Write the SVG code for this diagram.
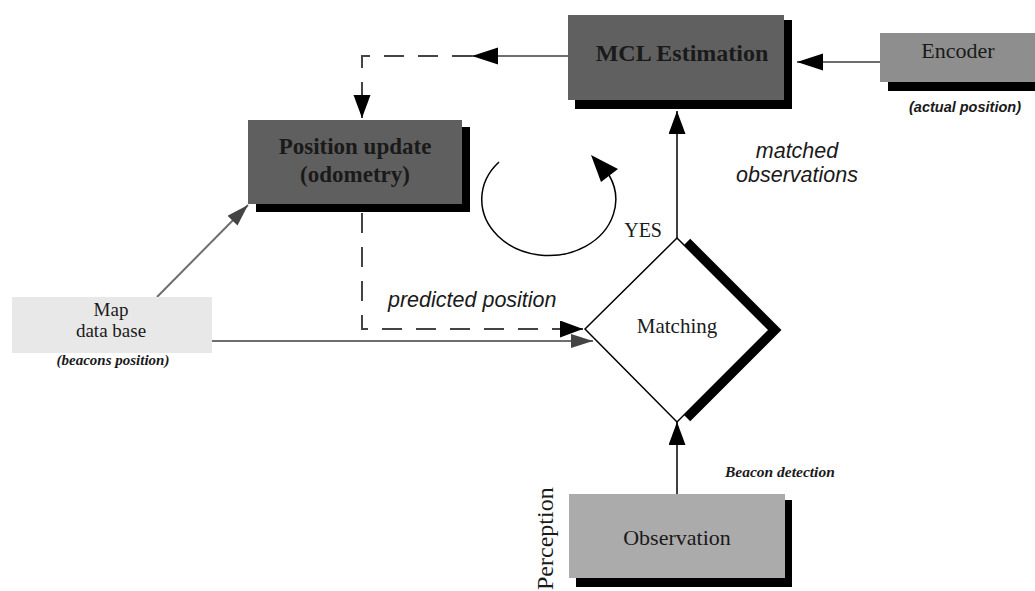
<svg xmlns="http://www.w3.org/2000/svg" width="1035" height="591" viewBox="0 0 1035 591">
<style>
.serif{font-family:"Liberation Serif","Times New Roman",serif;fill:#1a1a1a}
.sans{font-family:"Liberation Sans",Arial,sans-serif;fill:#1a1a1a}
.shadow{fill:#000}
.ln{fill:none;stroke:#000;stroke-width:1.5}
.gln{fill:none;stroke:#6e6e6e;stroke-width:2}
.dash{fill:none;stroke:#444;stroke-width:2;stroke-dasharray:20 14}
</style>
<defs>
<marker id="ah" markerUnits="userSpaceOnUse" markerWidth="28" markerHeight="18" refX="26" refY="8.5" orient="auto">
<path d="M0,0 L26,8.5 L0,17 z" fill="#000"/>
</marker>
<marker id="ahs" markerUnits="userSpaceOnUse" markerWidth="26" markerHeight="18" refX="23" refY="8.5" orient="auto">
<path d="M0,0 L23,8.5 L0,17 z" fill="#000"/>
</marker>
<marker id="ahg" markerUnits="userSpaceOnUse" markerWidth="26" markerHeight="18" refX="22" refY="7" orient="auto">
<path d="M0,0 L22,7 L0,14 z" fill="#444"/>
</marker>
</defs>
<rect width="1035" height="591" fill="#fff"/>

<g id="connectors">
<line class="gln" x1="880" y1="62" x2="797" y2="62" marker-end="url(#ah)"/>
<line class="gln" x1="568" y1="56" x2="472" y2="56" marker-end="url(#ah)"/>
<polyline class="dash" points="472,56 362,56 362,96"/>
<line x1="362" y1="92" x2="362" y2="118" stroke="#444" stroke-width="2" marker-end="url(#ahs)"/>
<line class="gln" x1="157" y1="297" x2="248" y2="205" marker-end="url(#ahg)"/>
<polyline class="dash" points="362,213 362,329 570,329"/>
<line x1="565" y1="329" x2="583" y2="329" stroke="#444" stroke-width="2" marker-end="url(#ahs)"/>
<line class="gln" x1="212" y1="341" x2="593" y2="341" marker-end="url(#ahg)"/>
<line class="ln" x1="677" y1="238" x2="677" y2="111" marker-end="url(#ahs)"/>
<line class="ln" x1="677" y1="494" x2="677" y2="422" marker-end="url(#ahs)"/>
<path class="ln" d="M499,162 A67,56 0 1 0 609,175"/>
<polygon points="591,155 601,182 618,169" fill="#000"/>
</g>

<g id="mcl">
<rect class="shadow" x="575" y="20" width="217" height="89"/>
<rect x="568" y="15" width="216" height="85" fill="#606060"/>
<text class="serif" x="682" y="61" font-size="24" font-weight="bold" text-anchor="middle">MCL Estimation</text>
</g>

<g id="encoder">
<rect class="shadow" x="888" y="40" width="150" height="51"/>
<rect x="880" y="33" width="160" height="49" fill="#8e8e8e"/>
<text class="serif" x="958" y="58" font-size="22" text-anchor="middle">Encoder</text>
<text class="sans" x="965" y="112" font-size="14.5" font-weight="bold" font-style="italic" text-anchor="middle">(actual position)</text>
</g>

<g id="position-update">
<rect class="shadow" x="256" y="127" width="214" height="85"/>
<rect x="248" y="120" width="214" height="84" fill="#5f5f5f"/>
<text class="serif" x="355" y="154" font-size="23" font-weight="bold" text-anchor="middle">Position update</text>
<text class="serif" x="355" y="182" font-size="23" font-weight="bold" text-anchor="middle">(odometry)</text>
</g>

<g id="map">
<rect x="12" y="297" width="200" height="56" fill="#e8e8e8"/>
<text class="serif" x="111" y="316" font-size="19" text-anchor="middle">Map</text>
<text class="serif" x="111" y="337" font-size="19" text-anchor="middle">data base</text>
<text class="serif" x="113" y="365" font-size="15" font-weight="bold" font-style="italic" text-anchor="middle">(beacons position)</text>
</g>

<g id="matching">
<polyline points="686,243 773,330 686,417" fill="none" stroke="#000" stroke-width="12"/>
<polygon points="585,329 677,238 769,330 677,422" fill="#fff" stroke="#000" stroke-width="1.5"/>
<text class="serif" x="677" y="333" font-size="21" text-anchor="middle">Matching</text>
<text class="serif" x="662" y="237" font-size="20" text-anchor="end">YES</text>
</g>

<g id="observation">
<rect class="shadow" x="576" y="500" width="216" height="87"/>
<rect x="569" y="494" width="216" height="84" fill="#ababab"/>
<text class="serif" x="677" y="545" font-size="22" text-anchor="middle">Observation</text>
<text class="serif" x="725" y="477" font-size="15.5" font-weight="bold" font-style="italic">Beacon detection</text>
<text class="serif" transform="translate(553,590) rotate(-90)" font-size="24">Perception</text>
</g>

<g id="labels">
<text class="sans" x="388" y="307" font-size="21.5" font-style="italic">predicted position</text>
<text class="sans" x="797" y="158" font-size="21.5" font-style="italic" text-anchor="middle">matched</text>
<text class="sans" x="797" y="182" font-size="21.5" font-style="italic" text-anchor="middle">observations</text>
</g>
</svg>
